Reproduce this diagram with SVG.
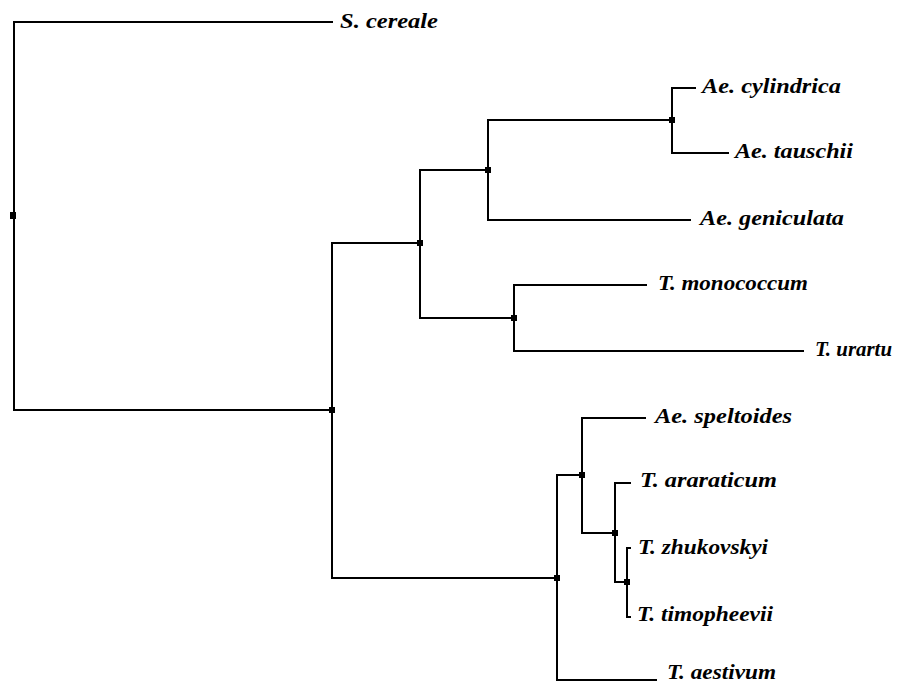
<svg xmlns="http://www.w3.org/2000/svg" width="912" height="685" viewBox="0 0 912 685">
<style>
.e{fill:none;stroke:#000;stroke-width:2;stroke-linecap:square}
.n{fill:#000}
.t{font-family:"Liberation Serif","Times New Roman",serif;font-size:21px;font-weight:bold;font-style:italic;fill:#000}
</style>
<rect width="912" height="685" fill="#fff"/>
<g id="edges">
<path class="e" d="M332,22 H14 V410 H332"/>
<path class="e" d="M420,243 H332 V243"/>
<path class="e" d="M332,244 V578 H557"/>
<path class="e" d="M514,318 H420 V170 H488"/>
<path class="e" d="M672,120 H488 V220 H690"/>
<path class="e" d="M488,170 V120"/>
<path class="e" d="M695,88 H672 V153 H728"/>
<path class="e" d="M646,285 H514 V351 H803"/>
<path class="e" d="M582,475 H557 V680 H656"/>
<path class="e" d="M645,418 H582 V533 H615"/>
<path class="e" d="M630,483 H615 V582 H627"/>
<path class="e" d="M630,548 H627 V617 H630"/>
</g>
<g id="nodes">
<rect class="n" x="10" y="212" width="6" height="7"/>
<rect class="n" x="329" y="407" width="6" height="6"/>
<rect class="n" x="417" y="240" width="6" height="6"/>
<rect class="n" x="485" y="167" width="6" height="6"/>
<rect class="n" x="669" y="117" width="6" height="6"/>
<rect class="n" x="511" y="315" width="6" height="6"/>
<rect class="n" x="554" y="575" width="6" height="6"/>
<rect class="n" x="579" y="472" width="6" height="6"/>
<rect class="n" x="612" y="530" width="6" height="6"/>
<rect class="n" x="624" y="579" width="6" height="6"/>
</g>
<g id="leaf-cereale"><text class="t" x="340" y="28" textLength="98" lengthAdjust="spacingAndGlyphs">S. cereale</text></g>
<g id="leaf-cylindrica"><text class="t" x="702" y="93" textLength="139" lengthAdjust="spacingAndGlyphs">Ae. cylindrica</text></g>
<g id="leaf-tauschii"><text class="t" x="735" y="158" textLength="118" lengthAdjust="spacingAndGlyphs">Ae. tauschii</text></g>
<g id="leaf-geniculata"><text class="t" x="700" y="225" textLength="144" lengthAdjust="spacingAndGlyphs">Ae. geniculata</text></g>
<g id="leaf-monococcum"><text class="t" x="658" y="290" textLength="150" lengthAdjust="spacingAndGlyphs">T. monococcum</text></g>
<g id="leaf-urartu"><text class="t" x="815" y="356" textLength="77" lengthAdjust="spacingAndGlyphs">T. urartu</text></g>
<g id="leaf-speltoides"><text class="t" x="655" y="423" textLength="137" lengthAdjust="spacingAndGlyphs">Ae. speltoides</text></g>
<g id="leaf-araraticum"><text class="t" x="640" y="487" textLength="137" lengthAdjust="spacingAndGlyphs">T. araraticum</text></g>
<g id="leaf-zhukovskyi"><text class="t" x="638" y="554" textLength="130" lengthAdjust="spacingAndGlyphs">T. zhukovskyi</text></g>
<g id="leaf-timopheevii"><text class="t" x="637" y="621" textLength="136" lengthAdjust="spacingAndGlyphs">T. timopheevii</text></g>
<g id="leaf-aestivum"><text class="t" x="667" y="679" textLength="109" lengthAdjust="spacingAndGlyphs">T. aestivum</text></g>
</svg>
